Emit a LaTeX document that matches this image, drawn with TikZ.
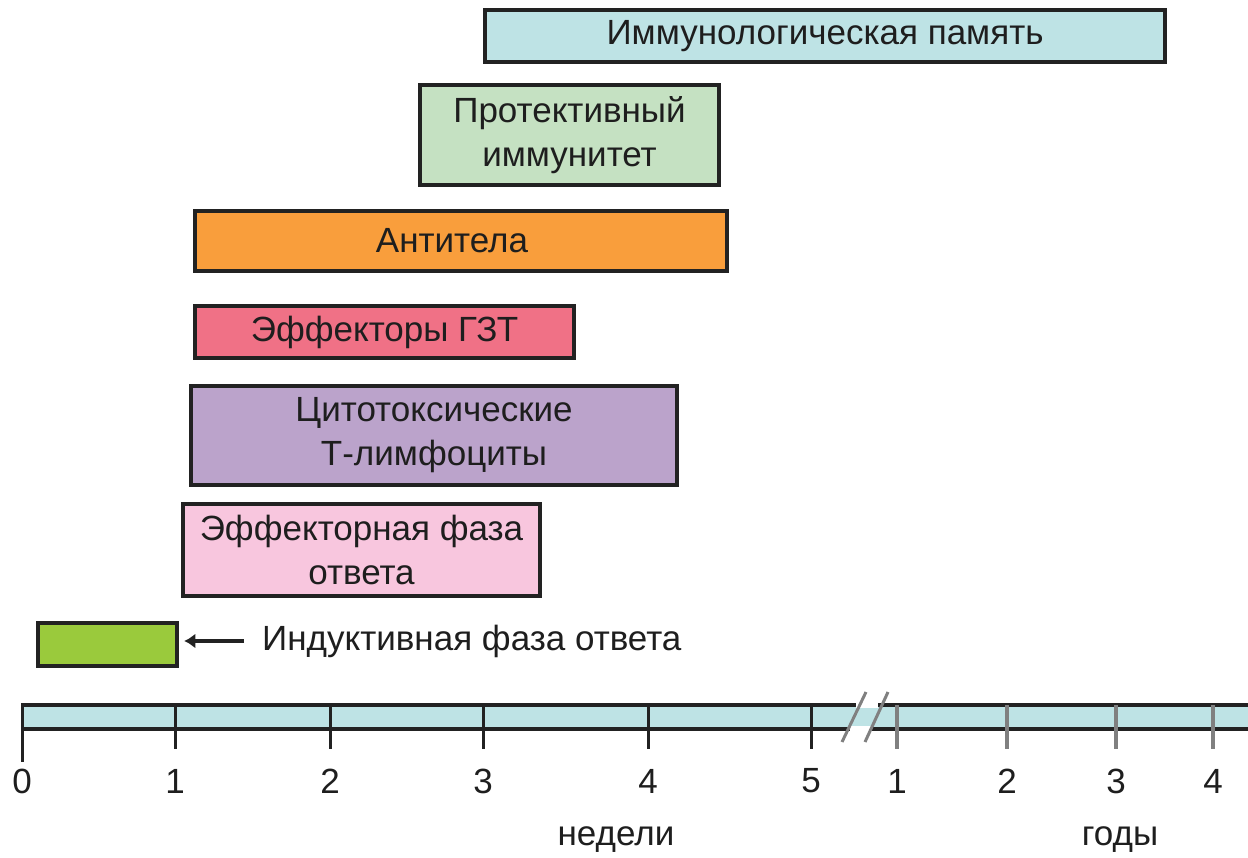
\documentclass[tikz,border=0pt]{standalone}
\usepackage{fontspec}
\setmainfont{Liberation Sans}
\usetikzlibrary{arrows.meta}
\definecolor{cmem}{HTML}{BEE3E5}
\definecolor{cprot}{HTML}{C5E1C2}
\definecolor{cab}{HTML}{F99E3C}
\definecolor{cdth}{HTML}{F07186}
\definecolor{cctl}{HTML}{BBA3CB}
\definecolor{ceff}{HTML}{F8C6DE}
\definecolor{cind}{HTML}{9ACA3C}
\definecolor{cline}{HTML}{222222}
\definecolor{ctxt}{HTML}{1E1E1E}
\definecolor{cyear}{HTML}{808080}
\begin{document}
\begin{tikzpicture}[x=1pt,y=-1pt,
  txt/.style={font=\fontsize{35}{44}\selectfont, text=ctxt, align=center, inner sep=0pt},
  bar/.style={draw=cline, line width=4.5pt, fill=#1, inner sep=0pt, font=\fontsize{35}{44}\selectfont, text=ctxt, align=center},
  wtick/.style={draw=cline, line width=3pt},
  ytick/.style={draw=cyear, line width=4pt},
  arr/.style={draw=cline, line width=4pt, -{Latex[length=11pt,width=15pt]}}]
\useasboundingbox (0,0) rectangle (1248,857);

% bars
\node[bar=cmem, minimum width=680pt, minimum height=52pt] (mem) at (825,36) {Иммунологическая память};
\node[bar=cprot, minimum width=299pt, minimum height=100pt] (prot) at (569.5,135) {Протективный\\иммунитет};
\node[bar=cab, minimum width=532pt, minimum height=60pt] (ab) at (461,241) {Антитела\hspace*{18pt}};
\node[bar=cdth, minimum width=379pt, minimum height=52pt] (dth) at (384.5,332) {Эффекторы ГЗТ};
\node[bar=cctl, minimum width=486pt, minimum height=99pt] (ctl) at (434,435.5) {Цитотоксические\\Т-лимфоциты};
\node[bar=ceff, minimum width=357pt, minimum height=92pt] (eff) at (361.5,550) {Эффекторная фаза\\ответа};
\node[bar=cind, minimum width=139pt, minimum height=43pt] (ind) at (107.5,644.5) {};
\node[txt, anchor=west] (indt) at (262,641) {Индуктивная фаза ответа};
\draw[arr, shorten <=18pt, shorten >=5pt] (indt.west) -- (ind.east |- indt.west);

% axis band
\fill[cmem] (22,705) rectangle (1248,729);
\coordinate (a0) at (22,705);
\coordinate (aend) at (1248,705);
\coordinate (b0) at (22,729);
\coordinate (bend) at (1248,729);
\draw[cline, line width=4pt] (a0) -- (aend);
\draw[cline, line width=4pt] (b0) -- (bend);
% break
\draw[white, line width=6pt] (856,705) -- (878,705);
\draw[white, line width=6pt] (850,729) -- (872,729);
\draw[cyear, line width=3pt] (842,742) -- (866,692);
\draw[cyear, line width=3pt] (865,742) -- (888,692);

% week ticks
\draw[wtick] (22,703) -- (22,762);
\foreach \x/\n in {175/w1,330/w2,483/w3,648/w4,811/w5}{
  \draw[wtick] (\x,705) -- (\x,749);
}
\foreach \x/\n in {897/y1,1007/y2,1116/y3,1213/y4}{
  \draw[ytick] (\x,705) -- (\x,749);
}
% labels
\foreach \x/\t/\n in {22/0/l0,175/1/l1,330/2/l2,483/3/l3,648/4/l4,811/5/l5,897/1/m1,1007/2/m2,1116/3/m3,1213/4/m4}{
  \node[txt] (\n) at (\x,781) {\t};
}
\node[txt] (weeks) at (616,840) {недели};
\node[txt] (years) at (1120,840) {годы};
\end{tikzpicture}
\end{document}
